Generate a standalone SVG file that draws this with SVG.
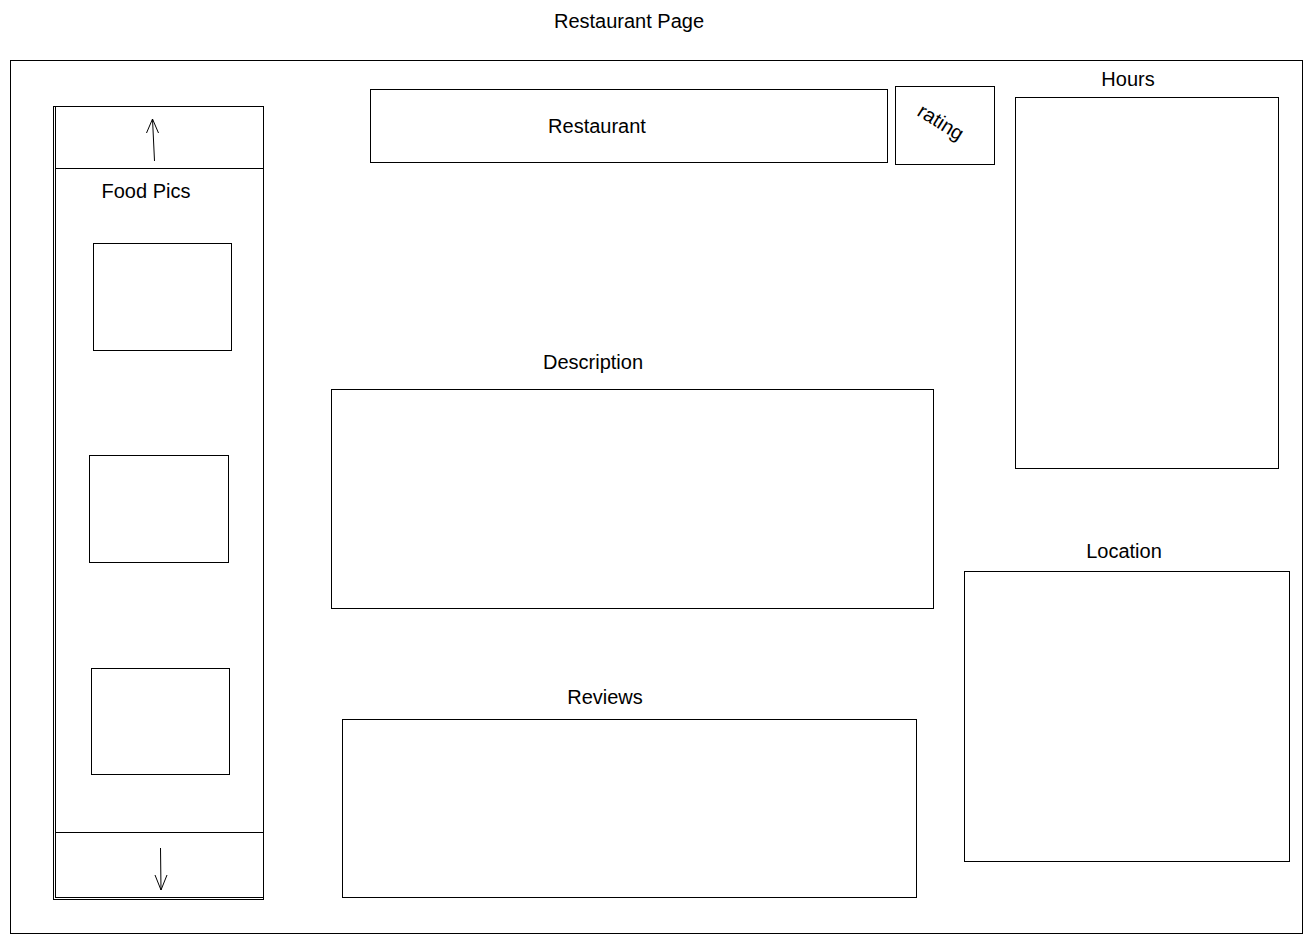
<svg xmlns="http://www.w3.org/2000/svg" width="1313" height="943" viewBox="0 0 1313 943">
<style>
.b{fill:#fff;stroke:#000;stroke-width:1}
.t{font-family:"Liberation Sans",Arial,sans-serif;font-size:20px;fill:#000;text-anchor:middle;dominant-baseline:central}
.a{fill:none;stroke:#000;stroke-width:1}
</style>
<rect width="1313" height="943" fill="#fff"/>
<text class="t" x="629" y="21">Restaurant Page</text>
<g id="page"><rect class="b" x="10.5" y="60.5" width="1292" height="873"/></g>
<g id="sidebar">
<rect class="b" x="53.5" y="106.5" width="210" height="793"/>
<rect class="a" x="55.5" y="106.5" width="208" height="791"/>
<text class="t" x="146" y="191">Food Pics</text>
</g>
<g id="scroll-up"><rect class="b" x="55.5" y="106.5" width="208" height="62"/></g>
<g id="scroll-down"><rect class="b" x="55.5" y="832.5" width="208" height="65"/></g>
<g id="pic1"><rect class="b" x="93.5" y="243.5" width="138" height="107"/></g>
<g id="pic2"><rect class="b" x="89.5" y="455.5" width="139" height="107"/></g>
<g id="pic3"><rect class="b" x="91.5" y="668.5" width="138" height="106"/></g>
<g id="restaurant"><rect class="b" x="370.5" y="89.5" width="517" height="73"/><text class="t" x="597" y="126">Restaurant</text></g>
<g id="rating"><rect class="b" x="895.5" y="86.5" width="99" height="78"/><text class="t" x="941" y="122" transform="rotate(32 941 122)">rating</text></g>
<g id="hours"><text class="t" x="1128" y="79">Hours</text><rect class="b" x="1015.5" y="97.5" width="263" height="371"/></g>
<g id="description"><text class="t" x="593" y="362">Description</text><rect class="b" x="331.5" y="389.5" width="602" height="219"/></g>
<g id="reviews"><text class="t" x="605" y="697">Reviews</text><rect class="b" x="342.5" y="719.5" width="574" height="178"/></g>
<g id="location"><text class="t" x="1124" y="551">Location</text><rect class="b" x="964.5" y="571.5" width="325" height="290"/></g>
<g id="connectors">
<path class="a" d="M154.5 161 L152.5 119 M146.5 133 L152.5 119 L158.5 133"/>
<path class="a" d="M160.5 848 L161 890 M155 875 L161 890 L167 875"/>
</g>
</svg>
